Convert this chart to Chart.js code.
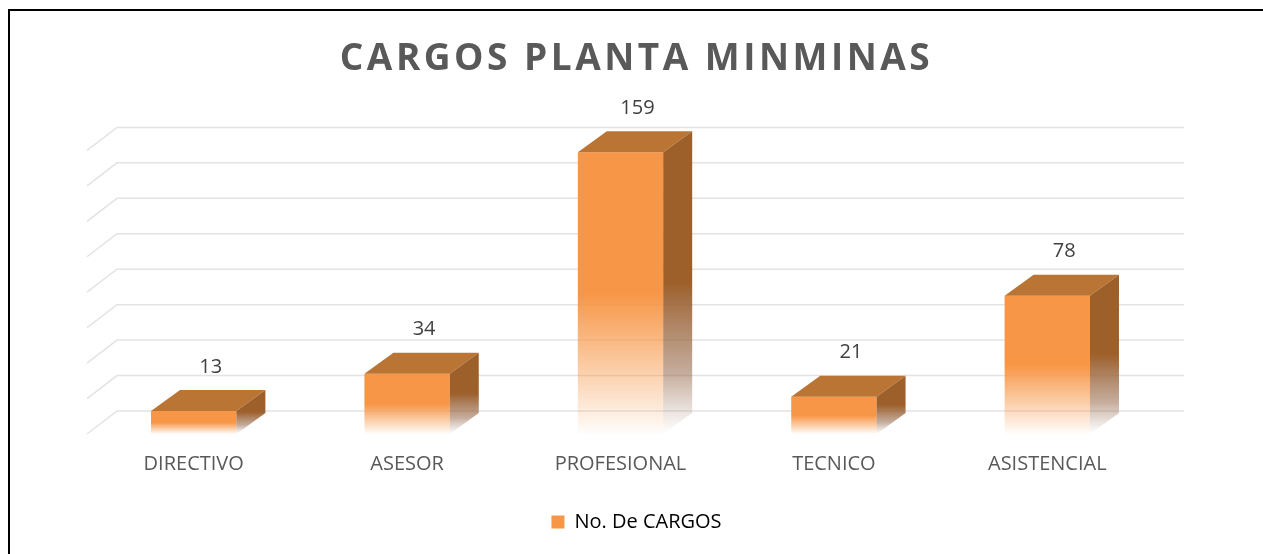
<!DOCTYPE html>
<html>
<head>
<meta charset="utf-8">
<script src="https://cdn.jsdelivr.net/npm/chart.js@4/dist/chart.umd.min.js"></script>
<style>
  html, body { margin: 0; padding: 0; background: #fff; overflow: hidden; }
  #wrap { position: relative; width: 1263px; height: 554px; }
  #frame { position: absolute; left: 8px; top: 9px; width: 1300px; height: 600px;
           border-top: 2px solid #000; border-left: 2px solid #000; pointer-events: none; }
  canvas { position: absolute; left: 10px; top: 11px; }
</style>
</head>
<body>
<div id="wrap">
  <canvas id="chart" width="1253" height="543"></canvas>
  <div id="frame"></div>
</div>
<script>
const categories = ["DIRECTIVO", "ASESOR", "PROFESIONAL", "TECNICO", "ASISTENCIAL"];
const cargos = [13, 34, 159, 21, 78];
const seriesName = "No. De CARGOS";
const chartTitle = "CARGOS PLANTA MINMINAS";

const FRONT = "#F79646";
const TOP = "#BA7434";
const SIDE = "#9D602B";
// depth of the bars and of the floor/back wall, in pixels
const BAR_DX = 29, BAR_DY = 21;
const WALL_DX = 30, WALL_DY = 23;

Chart.defaults.font.family = "'Open Sans', sans-serif";

function frontFill(context) {
  const chart = context.chart;
  if (!chart.chartArea || context.type !== "data") return FRONT;
  const y = chart.scales.y;
  const top = y.getPixelForValue(context.raw);
  const base = y.getPixelForValue(0);
  const g = chart.ctx.createLinearGradient(0, top, 0, base);
  g.addColorStop(0, FRONT);
  g.addColorStop(0.5, FRONT);
  g.addColorStop(0.78, "rgba(247,150,70,0.45)");
  g.addColorStop(1, "rgba(247,150,70,0.02)");
  return g;
}

const threeD = {
  id: "threeD",
  beforeDraw(chart) {
    // the title in the original is drawn wider: add some letter spacing
    const tb = chart.titleBlock;
    if (tb && !tb._spaced) {
      const orig = tb.draw.bind(tb);
      tb.draw = function () {
        chart.ctx.save();
        chart.ctx.letterSpacing = "3.5px";
        orig();
        chart.ctx.restore();
      };
      tb._spaced = true;
    }
  },
  beforeDatasetsDraw(chart) {
    const { ctx, chartArea, scales: { y } } = chart;
    ctx.save();
    ctx.strokeStyle = "#E3E3E3";
    ctx.lineWidth = 1.5;
    y.ticks.forEach(t => {
      const py = y.getPixelForValue(t.value);
      ctx.beginPath();
      ctx.moveTo(chartArea.left, py);
      ctx.lineTo(chartArea.left + WALL_DX, py - WALL_DY);
      ctx.lineTo(chartArea.right + WALL_DX, py - WALL_DY);
      ctx.stroke();
    });
    ctx.restore();
  },
  afterDatasetsDraw(chart) {
    const ctx = chart.ctx;
    const meta = chart.getDatasetMeta(0);
    const values = chart.data.datasets[0].data;
    ctx.save();
    meta.data.forEach((bar, i) => {
      const { x, y, base, width } = bar.getProps(["x", "y", "base", "width"], true);
      const l = x - width / 2, r = x + width / 2;

      // top face
      ctx.fillStyle = TOP;
      ctx.beginPath();
      ctx.moveTo(l, y);
      ctx.lineTo(l + BAR_DX, y - BAR_DY);
      ctx.lineTo(r + BAR_DX, y - BAR_DY);
      ctx.lineTo(r, y);
      ctx.closePath();
      ctx.fill();

      // right side face, fading out toward the floor
      const g = ctx.createLinearGradient(0, y - BAR_DY, 0, base);
      g.addColorStop(0, SIDE);
      g.addColorStop(0.5, SIDE);
      g.addColorStop(0.8, "rgba(150,105,75,0.55)");
      g.addColorStop(1, "rgba(160,130,110,0)");
      ctx.fillStyle = g;
      ctx.beginPath();
      ctx.moveTo(r, y);
      ctx.lineTo(r + BAR_DX, y - BAR_DY);
      ctx.lineTo(r + BAR_DX, base - BAR_DY);
      ctx.lineTo(r, base);
      ctx.closePath();
      ctx.fill();

      // value label
      ctx.fillStyle = "#404040";
      ctx.font = "20px 'Open Sans', sans-serif";
      ctx.textAlign = "center";
      ctx.textBaseline = "middle";
      ctx.fillText(String(values[i]), x + 17, y - BAR_DY - 23);
    });
    ctx.restore();
  }
};

new Chart(document.getElementById("chart"), {
  type: "bar",
  data: {
    labels: categories,
    datasets: [{
      label: seriesName,
      data: cargos,
      backgroundColor: frontFill,
      borderWidth: 0,
      barPercentage: 0.4,
      categoryPercentage: 1
    }]
  },
  options: {
    responsive: false,
    animation: false,
    devicePixelRatio: 1,
    layout: { padding: { left: 0, right: 0, top: 0, bottom: 12 } },
    scales: {
      x: {
        grid: { display: false, drawTicks: false },
        border: { display: false },
        ticks: { color: "#595959", font: { size: 20 }, padding: 18 },
        afterFit(scale) { scale.height = 68; }
      },
      y: {
        position: "left",
        min: 0,
        max: 160,
        ticks: { stepSize: 20, display: false },
        grid: { display: false, drawTicks: false },
        border: { display: false },
        afterFit(scale) { scale.width = 77; }
      },
      yRight: {
        type: "linear",
        position: "right",
        ticks: { display: false },
        grid: { display: false, drawTicks: false },
        border: { display: false },
        afterFit(scale) { scale.width = 109; }
      }
    },
    plugins: {
      title: {
        display: true,
        text: chartTitle,
        color: "#595959",
        font: { size: 37, weight: "bold" },
        padding: { top: 26, bottom: 69 }
      },
      legend: {
        position: "bottom",
        labels: {
          color: "#595959",
          font: { size: 20 },
          boxWidth: 13,
          boxHeight: 13,
          padding: 10,
          generateLabels: chart => [{
            text: chart.data.datasets[0].label,
            fillStyle: FRONT,
            strokeStyle: FRONT,
            lineWidth: 0,
            hidden: false,
            datasetIndex: 0
          }]
        }
      },
      tooltip: { enabled: false }
    }
  },
  plugins: [threeD]
});
</script>
</body>
</html>
